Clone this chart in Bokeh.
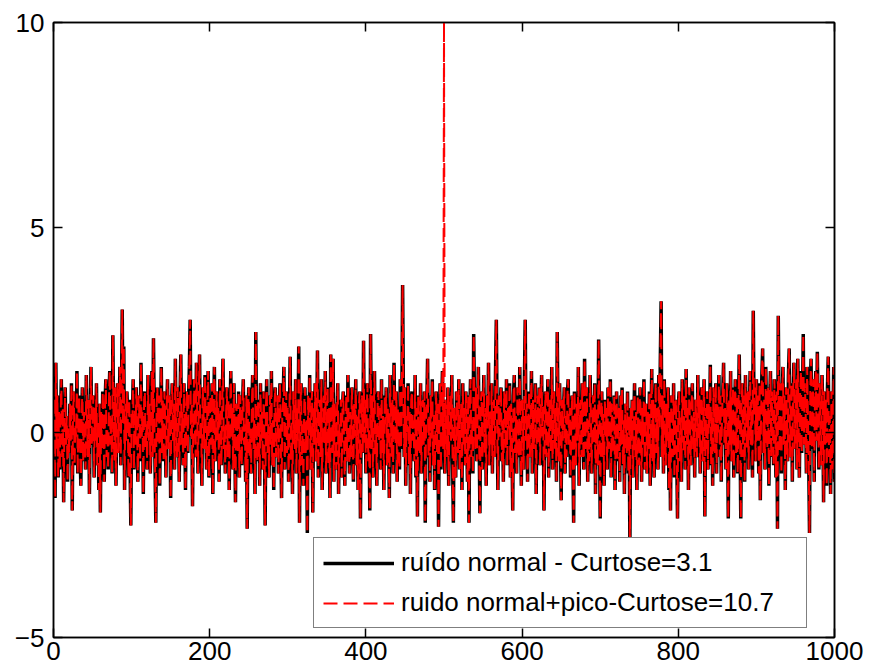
from bokeh.plotting import figure
from bokeh.models import Range1d, LinearAxis, FixedTicker, Legend, LegendItem
from bokeh.embed import file_html
from bokeh.resources import INLINE

# ---- data ----
ruido = [
    0.8, -1.6, 1.7, -0.4, 0.9, -1.1, 0.5, -0.9, 0.3, 1.3, -0.6, 0.6, -1.7, 0.2, 1.1, -0.3, 0.4, -1.2, 0.1, -0.5,
    0.7, -0.2, 1.2, -1.9, 0.4, 1.0, -0.8, 0.2, -0.1, 1.5, -1.0, 0.6, 0.9, -0.4, -1.3, 0.3, 1.1, -0.7, 0.5, 0.0,
    -0.9, 1.4, 0.2, -0.6, 0.8, -1.5, 0.4, 1.6, -0.3, 0.1, 0.9, -1.1, 0.6, -0.2, 1.2, -0.8, 0.3, -1.4, 0.7, -1.95,
    0.5, -0.4, 1.0, 0.2, -1.2, 0.7, 1.3, -0.6, 0.1, -0.9, 0.8, 1.5, -0.3, 0.4, -1.0, 2.37, 0.0, -0.7, 1.1, -1.3,
    0.6, 1.2, -0.5, 0.3, 1.6, -0.8, 0.9, 3.0, 0.2, 2.1, -1.4, 0.7, -0.2, 1.0, 0.4, -1.1, 0.8, -0.6, -2.27, 0.5,
    0.3, 1.3, -0.9, 0.6, -0.3, 1.1, 0.1, -1.2, 0.9, 0.4, -0.7, 1.7, -0.1, 0.5, -1.5, 0.8, 1.0, -0.4, 0.2, -0.9,
    1.4, -0.2, 0.7, -1.0, 0.3, 1.5, -0.6, 2.3, 0.4, -0.8, -2.2, 0.6, 1.1, -0.3, 0.9, -1.3, 0.2, 1.6, -0.5, 0.8,
    -0.7, 1.0, 0.3, -1.1, 0.6, 1.3, -0.4, 0.1, 0.9, -1.6, 0.5, 1.2, -0.2, 0.7, -0.9, 1.8, 0.0, -0.6, 1.1, 0.4,
    -1.2, 0.8, 1.9, -0.3, 0.5, -0.8, 1.2, 0.2, -1.4, 0.6, 1.0, -0.5, 0.9, 1.6, 2.75, -0.1, 0.7, -1.8, 0.4, 1.3,
    0.1, -0.6, 1.7, 0.5, -1.0, 0.8, 1.9, -0.2, 0.3, -1.3, 1.1, 0.6, -0.4, 1.4, 0.0, -0.9, 0.7, 1.5, -1.1, 0.2,
    0.9, -0.3, 1.2, -1.5, 0.4, 1.6, -0.7, 0.1, 1.0, -0.2, 0.6, -1.2, 1.3, 0.3, -0.8, 0.7, 1.8, -0.4, 0.2, -1.0,
    0.5, 1.1, -0.6, 0.8, -1.4, 0.3, 1.5, -0.1, 0.6, -0.9, 1.2, 0.0, -1.7, 0.7, 0.4, -0.5, 1.0, -1.1, 0.9, 0.2,
    -0.8, 0.6, 1.3, -0.3, 0.2, -1.2, 0.9, -2.35, 0.5, 1.1, -0.6, 0.1, -1.0, 0.7, 1.4, -0.4, 0.3, -1.5, 2.45, 0.0,
    -0.7, 0.8, 0.4, -1.3, 1.2, -0.2, 0.5, -0.9, 1.0, 0.1, -2.27, 0.6, 1.3, -0.5, 0.2, -1.1, 0.9, -0.3, 1.5, -0.8,
    0.3, -1.4, 0.7, 1.1, -0.6, 0.0, 0.9, -1.0, 0.4, 1.2, -0.3, -1.6, 0.5, 0.8, 1.6, -0.9, 0.2, 1.0, -0.5, 0.6,
    -1.2, 0.4, 1.85, -0.7, 0.3, -1.5, 1.0, 0.1, -0.4, 1.3, -1.0, 0.6, -0.2, 2.1, -2.2, 0.5, 1.2, -0.8, 0.2, -1.3,
    0.7, 1.1, -0.5, 0.3, -2.45, 0.9, -0.1, 1.4, -0.9, 0.4, 1.0, -1.95, 0.6, -0.3, 1.2, -0.7, 0.2, 2.0, -1.1, 0.5,
    0.8, -0.6, 1.3, -1.4, 0.1, 0.9, -0.3, 1.5, -1.0, 0.4, 1.1, -0.8, 0.6, -1.6, 1.9, 0.0, -0.5, 1.8, -1.2, 0.7,
    0.3, -0.9, 0.5, 1.2, -1.5, 0.2, -0.4, 0.8, -1.1, 0.6, 1.0, -0.2, -1.3, 0.4, 0.9, -0.7, 1.4, 0.1, -1.0, 0.5,
    -0.6, 1.1, 0.3, -1.2, 0.7, -0.1, 1.3, -0.8, 0.4, -1.4, 0.6, 1.0, -2.1, 0.2, 0.9, -0.5, 2.24, -0.3, 0.8, -1.0,
    0.5, 1.2, -0.7, 0.1, -1.9, 2.4, -0.4, 0.9, -1.1, 0.3, 1.5, -0.6, 0.2, -1.3, 0.8, 1.0, -0.2, 0.6, -0.9, 1.3,
    -0.5, 0.4, -1.4, 0.9, 0.2, 1.1, -0.8, 0.6, -0.1, -1.6, 1.4, 0.3, -0.6, 0.8, -1.0, 1.7, 0.0, -0.3, 1.0, -1.2,
    0.6, 0.2, -0.9, 1.3, -0.4, 0.7, 3.6, 0.9, -0.6, 1.1, -1.3, 0.4, 0.0, 1.2, -0.8, 0.5, -1.5, 0.8, 1.0, -0.2,
    0.3, -0.7, 1.4, -1.1, 0.6, -2.05, 0.9, 0.1, -0.5, 1.2, -1.0, 0.4, 0.8, -0.3, 1.0, -2.2, 0.2, 0.7, 1.8, -0.6,
    0.4, -1.2, 0.9, -0.2, 1.3, -0.8, 0.5, -1.4, 0.1, 1.0, -0.5, 0.7, -2.3, 0.3, 1.2, -0.9, 0.6, 1.5, -0.4, 0.0,
    -1.0, 0.8, 0.3, -0.6, 1.1, -1.3, 0.5, 0.9, -0.2, 1.4, -0.7, -2.2, 0.6, 0.1, -1.1, 1.0, 0.4, -0.5, 1.3, -0.9,
    0.2, 0.7, -1.4, 1.2, -0.3, 0.6, -0.8, 1.0, 0.0, -1.2, 0.9, -2.2, 0.5, 1.3, -0.6, 0.3, -1.0, 2.4, 0.8, -0.4,
    1.1, -0.7, 0.4, 1.6, -0.2, -1.97, 0.7, 1.0, -0.9, 0.3, 1.4, -0.5, 0.6, -1.3, 0.9, 0.1, 1.7, -0.8, 0.5, -0.3,
    1.2, -1.0, 0.4, 0.8, -0.6, 1.5, 2.75, 0.2, -1.4, 0.9, -0.1, 0.6, 1.1, -0.7, 0.3, -1.2, 1.0, 0.5, -0.4, 1.3,
    -0.8, 0.6, 0.1, 1.2, -1.1, 0.7, -0.3, -1.9, 0.9, 1.4, -0.5, 0.4, -1.0, 1.1, 0.2, -0.6, 1.6, 0.0, -1.3, 0.8,
    0.5, -0.9, 1.3, 2.75, -0.2, 0.7, -1.2, 0.4, 1.0, -0.6, 0.3, 1.5, -1.0, 0.8, -0.4, 0.1, 1.2, -1.5, 0.6, 0.9,
    -0.3, 1.1, -0.8, 0.5, 1.4, -0.1, 0.7, -1.9, 0.3, 1.0, -0.6, 0.2, 1.3, -1.1, 0.8, 0.0, -0.5, 1.6, -0.9, 0.4,
    1.0, -0.4, 0.6, -1.2, 2.45, 0.3, -0.7, 1.2, 0.1, -1.65, 0.8, -0.2, 0.5, 1.1, -1.0, 0.4, -0.6, 0.9, 1.3, -0.3,
    0.6, -1.1, 0.2, 0.9, -0.5, -2.2, 1.0, 0.3, -0.8, 0.7, -0.2, 1.6, -1.3, 0.4, 0.8, -0.6, 1.2, 0.0, -0.9, 1.8,
    -0.4, 0.6, 1.1, -1.2, 0.3, -0.7, 1.4, 0.5, -1.0, 0.2, 0.9, -0.3, 1.2, -1.5, 0.6, 0.1, -0.8, 2.27, 0.4, -2.1,
    0.3, 1.0, -0.6, 0.5, -1.3, 0.8, -0.1, 0.6, -0.9, 1.1, -0.4, 0.2, 1.3, -1.1, 0.7, -0.5, 0.0, 0.9, -1.4, 0.4,
    1.0, -0.7, 0.2, 0.6, -1.2, 0.9, -0.3, 1.1, -0.8, 0.3, -1.5, 0.7, 0.1, -0.5, 1.0, -1.0, 0.4, -2.75, 0.6, -0.2,
    0.8, -1.1, 0.3, 1.2, -0.6, 0.5, -1.4, 0.9, 0.0, -0.8, 1.1, 0.4, -1.2, 0.6, -0.3, 1.3, -0.9, 0.2, 0.7, -1.0,
    0.5, -0.4, 1.0, -1.3, 0.2, 1.55, -0.7, 0.8, -1.1, 0.3, 1.2, -0.5, 0.6, -0.9, 1.4, 0.1, 1.8, 3.2, -0.6, 0.9,
    -1.0, 1.3, 0.4, -0.8, 0.7, -0.2, 1.1, -1.4, 0.5, -1.9, 0.9, 0.0, -0.6, 1.2, -1.1, 0.3, 0.8, -0.5, -2.1, 0.6,
    1.0, -0.7, 0.4, -1.2, 1.3, 0.1, -0.5, 0.9, -0.9, 1.55, -0.3, 0.6, -1.4, 1.1, 0.2, -0.8, 0.7, 1.2, -0.4, 0.5,
    -1.1, 0.8, 0.3, -0.6, 1.4, -0.2, 0.9, -1.0, 0.5, 1.1, -0.7, 0.2, 1.3, -2.05, 0.6, -0.4, 1.0, -0.9, 0.7, 0.1,
    1.65, -0.8, 0.5, -1.3, 1.1, 0.3, -0.5, 1.2, -1.0, 0.7, 0.0, 1.4, -0.6, 0.9, -1.2, 0.4, 1.0, 1.7, -0.3, 0.6,
    -0.9, 1.2, 0.4, -2.1, 0.8, -0.3, 1.5, -0.7, 0.6, 1.1, -1.1, 0.3, 1.3, -0.5, 0.9, -1.0, 0.5, 1.9, 0.2, -2.1,
    0.7, 1.2, -0.6, 0.9, -1.2, 1.4, 0.2, -0.4, 1.0, -0.9, 0.6, 1.5, -0.3, 0.8, -1.1, 2.97, 0.4, 1.1, -0.7, 1.3,
    -0.2, 0.9, -1.0, 1.2, -1.65, 0.5, 1.4, 2.05, -0.5, 0.8, -0.9, 1.6, 0.3, -0.4, 1.1, -1.3, 0.7, 1.5, -0.6, 1.0,
    0.2, -0.8, 1.3, 0.6, -1.1, 1.0, -2.35, 2.85, 0.4, -0.5, 1.2, -1.0, 0.8, 1.6, -0.3, 0.9, -1.4, 1.1, 0.5, -0.7,
    1.4, 2.05, -0.6, 0.7, 1.2, -1.2, 0.9, 1.7, -0.4, 0.5, 1.3, -0.9, 1.8, 0.2, -1.1, 1.0, 1.5, -0.5, 0.8, 2.4,
    -0.3, 1.2, 0.6, -1.0, 1.6, 0.4, -0.7, -2.45, 1.1, 1.8, -0.4, 0.7, 1.3, -1.2, 0.9, 1.5, -0.2, 1.97, 0.5, -0.9,
    1.2, 0.3, -0.8, 1.4, 0.6, -1.7, 1.0, -0.3, 0.8, -1.3, 1.1, 1.85, -0.6, 0.4, -1.5, 1.0, -0.9, 0.2, 1.6, -1.2,
]
amostras = list(range(1, len(ruido) + 1))
pico_posicao = 500
pico_amplitude = 10.0
ruido_pico = [v + (pico_amplitude if n == pico_posicao else 0.0) for n, v in zip(amostras, ruido)]

x_ticks = [0, 200, 400, 600, 800, 1000]
y_ticks = [-5, 0, 5, 10]
legend_labels = ["ruído normal - Curtose=3.1", "ruido normal+pico-Curtose=10.7"]

FONT = "Liberation Sans"
FS = "26px"

p = figure(width=877, height=672, output_backend="svg", toolbar_location=None,
           x_range=Range1d(0, 1000), y_range=Range1d(-5, 10),
           min_border_left=53, min_border_right=43, min_border_top=22, min_border_bottom=35)
p.grid.visible = False
p.outline_line_color = "black"
p.outline_line_width = 1.5
p.background_fill_color = "white"
p.border_fill_color = "white"

for ax in (p.xaxis[0], p.yaxis[0]):
    ax.major_tick_in = 9
    ax.major_tick_out = 0
    ax.minor_tick_in = 0
    ax.minor_tick_out = 0
    ax.axis_line_color = "black"
    ax.axis_line_width = 1.5
    ax.major_tick_line_width = 1.5
    ax.major_label_text_font = FONT
    ax.major_label_text_font_size = FS
    ax.major_label_text_color = "black"
p.xaxis[0].ticker = FixedTicker(ticks=x_ticks)
p.yaxis[0].ticker = FixedTicker(ticks=y_ticks)
p.xaxis[0].major_label_standoff = 4
p.yaxis[0].major_label_standoff = 9

# box ticks on the top and right edges (no labels)
top = LinearAxis(ticker=FixedTicker(ticks=x_ticks))
right = LinearAxis(ticker=FixedTicker(ticks=y_ticks))
for ax in (top, right):
    ax.major_tick_in = 9
    ax.major_tick_out = 0
    ax.minor_tick_in = 0
    ax.minor_tick_out = 0
    ax.axis_line_color = "black"
    ax.axis_line_width = 1.5
    ax.major_tick_line_width = 1.5
    ax.major_label_text_font = FONT
    ax.major_label_text_font_size = "10px"
    ax.major_label_overrides = {t: "" for t in (x_ticks if ax is top else y_ticks)}
    ax.major_label_standoff = 0
p.add_layout(top, "above")
p.add_layout(right, "right")

r1 = p.line(amostras, ruido, line_color="black", line_width=3.5)
r2 = p.line(amostras, ruido_pico, line_color="#ff0000", line_width=2, line_dash="14 6")

legend = Legend(items=[LegendItem(label=legend_labels[0], renderers=[r1]),
                       LegendItem(label=legend_labels[1], renderers=[r2])],
                location=(260, 9))
legend.label_text_font = FONT
legend.label_text_font_size = FS
legend.label_text_color = "black"
legend.glyph_width = 71
legend.glyph_height = 30
legend.label_height = 30
legend.label_width = 396
legend.label_standoff = 7
legend.spacing = 9
legend.padding = 9
legend.margin = 0
legend.border_line_color = "black"
legend.border_line_width = 1.5
legend.background_fill_color = "white"
legend.background_fill_alpha = 1.0
p.add_layout(legend, "center")

open("out.html", "w").write(file_html(p, INLINE))
